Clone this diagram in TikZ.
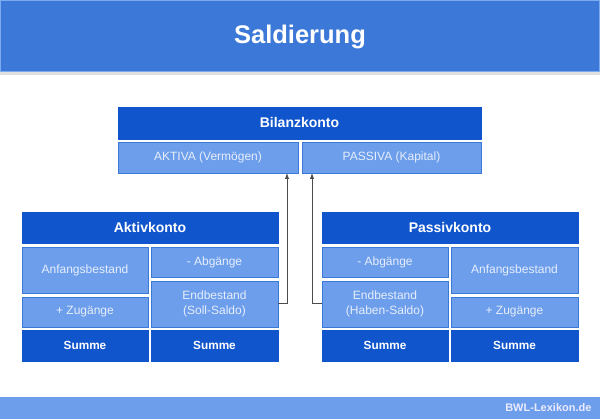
\documentclass[tikz,border=0pt]{standalone}
\usepackage{fontspec}
\setmainfont{Liberation Sans}
\usetikzlibrary{arrows.meta}
\definecolor{titleblue}{HTML}{3C78D8}
\definecolor{titleedge}{HTML}{7BAAF0}
\definecolor{darkblue}{HTML}{1155CC}
\definecolor{lightblue}{HTML}{6D9EEB}
\definecolor{lightedge}{HTML}{3C78D8}
\definecolor{lighttext}{HTML}{E6EEFB}
\definecolor{footblue}{HTML}{6D9EEB}
\tikzset{
  hdr/.style={fill=darkblue, draw=darkblue, text=white, font=\fontsize{14}{16}\selectfont\bfseries, inner sep=0pt},
  cell/.style={fill=lightblue, draw=lightedge, line width=0.8pt, text=lighttext, font=\fontsize{12}{15}\selectfont, align=center, inner sep=0pt},
  sumbox/.style={fill=darkblue, draw=darkblue, text=white, font=\fontsize{11.8}{14}\selectfont\bfseries, inner sep=0pt},
  link/.style={draw=black!70, line width=0.9pt, -{Latex[length=6pt,width=4.5pt]}}
}
\begin{document}
\begin{tikzpicture}[x=1pt,y=-1pt]
\useasboundingbox (0,0) rectangle (600,419);
% title bar
\fill[black!12] (0,72) rectangle (600,75);
\fill[titleblue] (0,0) rectangle (600,72);
\draw[titleedge, line width=1pt] (0.5,0.5) rectangle (599.5,71.5);
\node[text=white, font=\fontsize{25.5}{30}\selectfont\bfseries] (title) at (300,37) {Saldierung};
% footer
\fill[footblue] (0,397) rectangle (600,419);
\node[text=white!92!blue, font=\fontsize{11}{13}\selectfont\bfseries, anchor=east] (foot) at (595,408) {BWL-Lexikon.de};
% Bilanzkonto
\path[hdr] (118,107) rectangle (481,139);
\node[hdr] (bil) at (299.5,123) {Bilanzkonto};
\path[cell] (118,142) rectangle (298,173);
\node[cell, draw=none, fill=none] (akt) at (208,157.5) {AKTIVA (Vermögen)};
\path[cell] (302,142) rectangle (481,173);
\node[cell, draw=none, fill=none] (pas) at (391.5,157.5) {PASSIVA (Kapital)};
\coordinate (aktb) at (287,173);
\coordinate (pasb) at (312,173);
% Aktivkonto
\path[hdr] (22,212) rectangle (278,243);
\node[hdr] (aktk) at (150,227.5) {Aktivkonto};
\path[cell] (22,247) rectangle (148,293);
\node[cell, draw=none, fill=none] (a1) at (85,270) {Anfangsbestand};
\path[cell] (22,297) rectangle (148,327);
\node[cell, draw=none, fill=none] (a2) at (85,312) {+ Zugänge};
\path[cell] (151,247) rectangle (278,277);
\node[cell, draw=none, fill=none] (a3) at (214.5,262) {- Abgänge};
\path[cell] (151,281) rectangle (278,327);
\node[cell, draw=none, fill=none] (a4) at (214.5,304) {Endbestand\\(Soll-Saldo)};
\coordinate (a4r) at (278,303);
\path[sumbox] (22,330) rectangle (148,361);
\node[sumbox] (as1) at (85,345.5) {Summe};
\path[sumbox] (151,330) rectangle (278,361);
\node[sumbox] (as2) at (214.5,345.5) {Summe};
% Passivkonto
\path[hdr] (322,212) rectangle (578,243);
\node[hdr] (pask) at (450,227.5) {Passivkonto};
\path[cell] (322,247) rectangle (448,277);
\node[cell, draw=none, fill=none] (p1) at (385,262) {- Abgänge};
\path[cell] (322,281) rectangle (448,327);
\node[cell, draw=none, fill=none] (p2) at (385,304) {Endbestand\\(Haben-Saldo)};
\coordinate (p2l) at (322,303);
\path[cell] (451,247) rectangle (578,293);
\node[cell, draw=none, fill=none] (p3) at (514.5,270) {Anfangsbestand};
\path[cell] (451,297) rectangle (578,327);
\node[cell, draw=none, fill=none] (p4) at (514.5,312) {+ Zugänge};
\path[sumbox] (322,330) rectangle (448,361);
\node[sumbox] (ps1) at (385,345.5) {Summe};
\path[sumbox] (451,330) rectangle (578,361);
\node[sumbox] (ps2) at (514.5,345.5) {Summe};
% connectors
\draw[link] (a4r) -- (287,303) -- (aktb);
\draw[link] (p2l) -- (312,303) -- (pasb);
\end{tikzpicture}
\end{document}
